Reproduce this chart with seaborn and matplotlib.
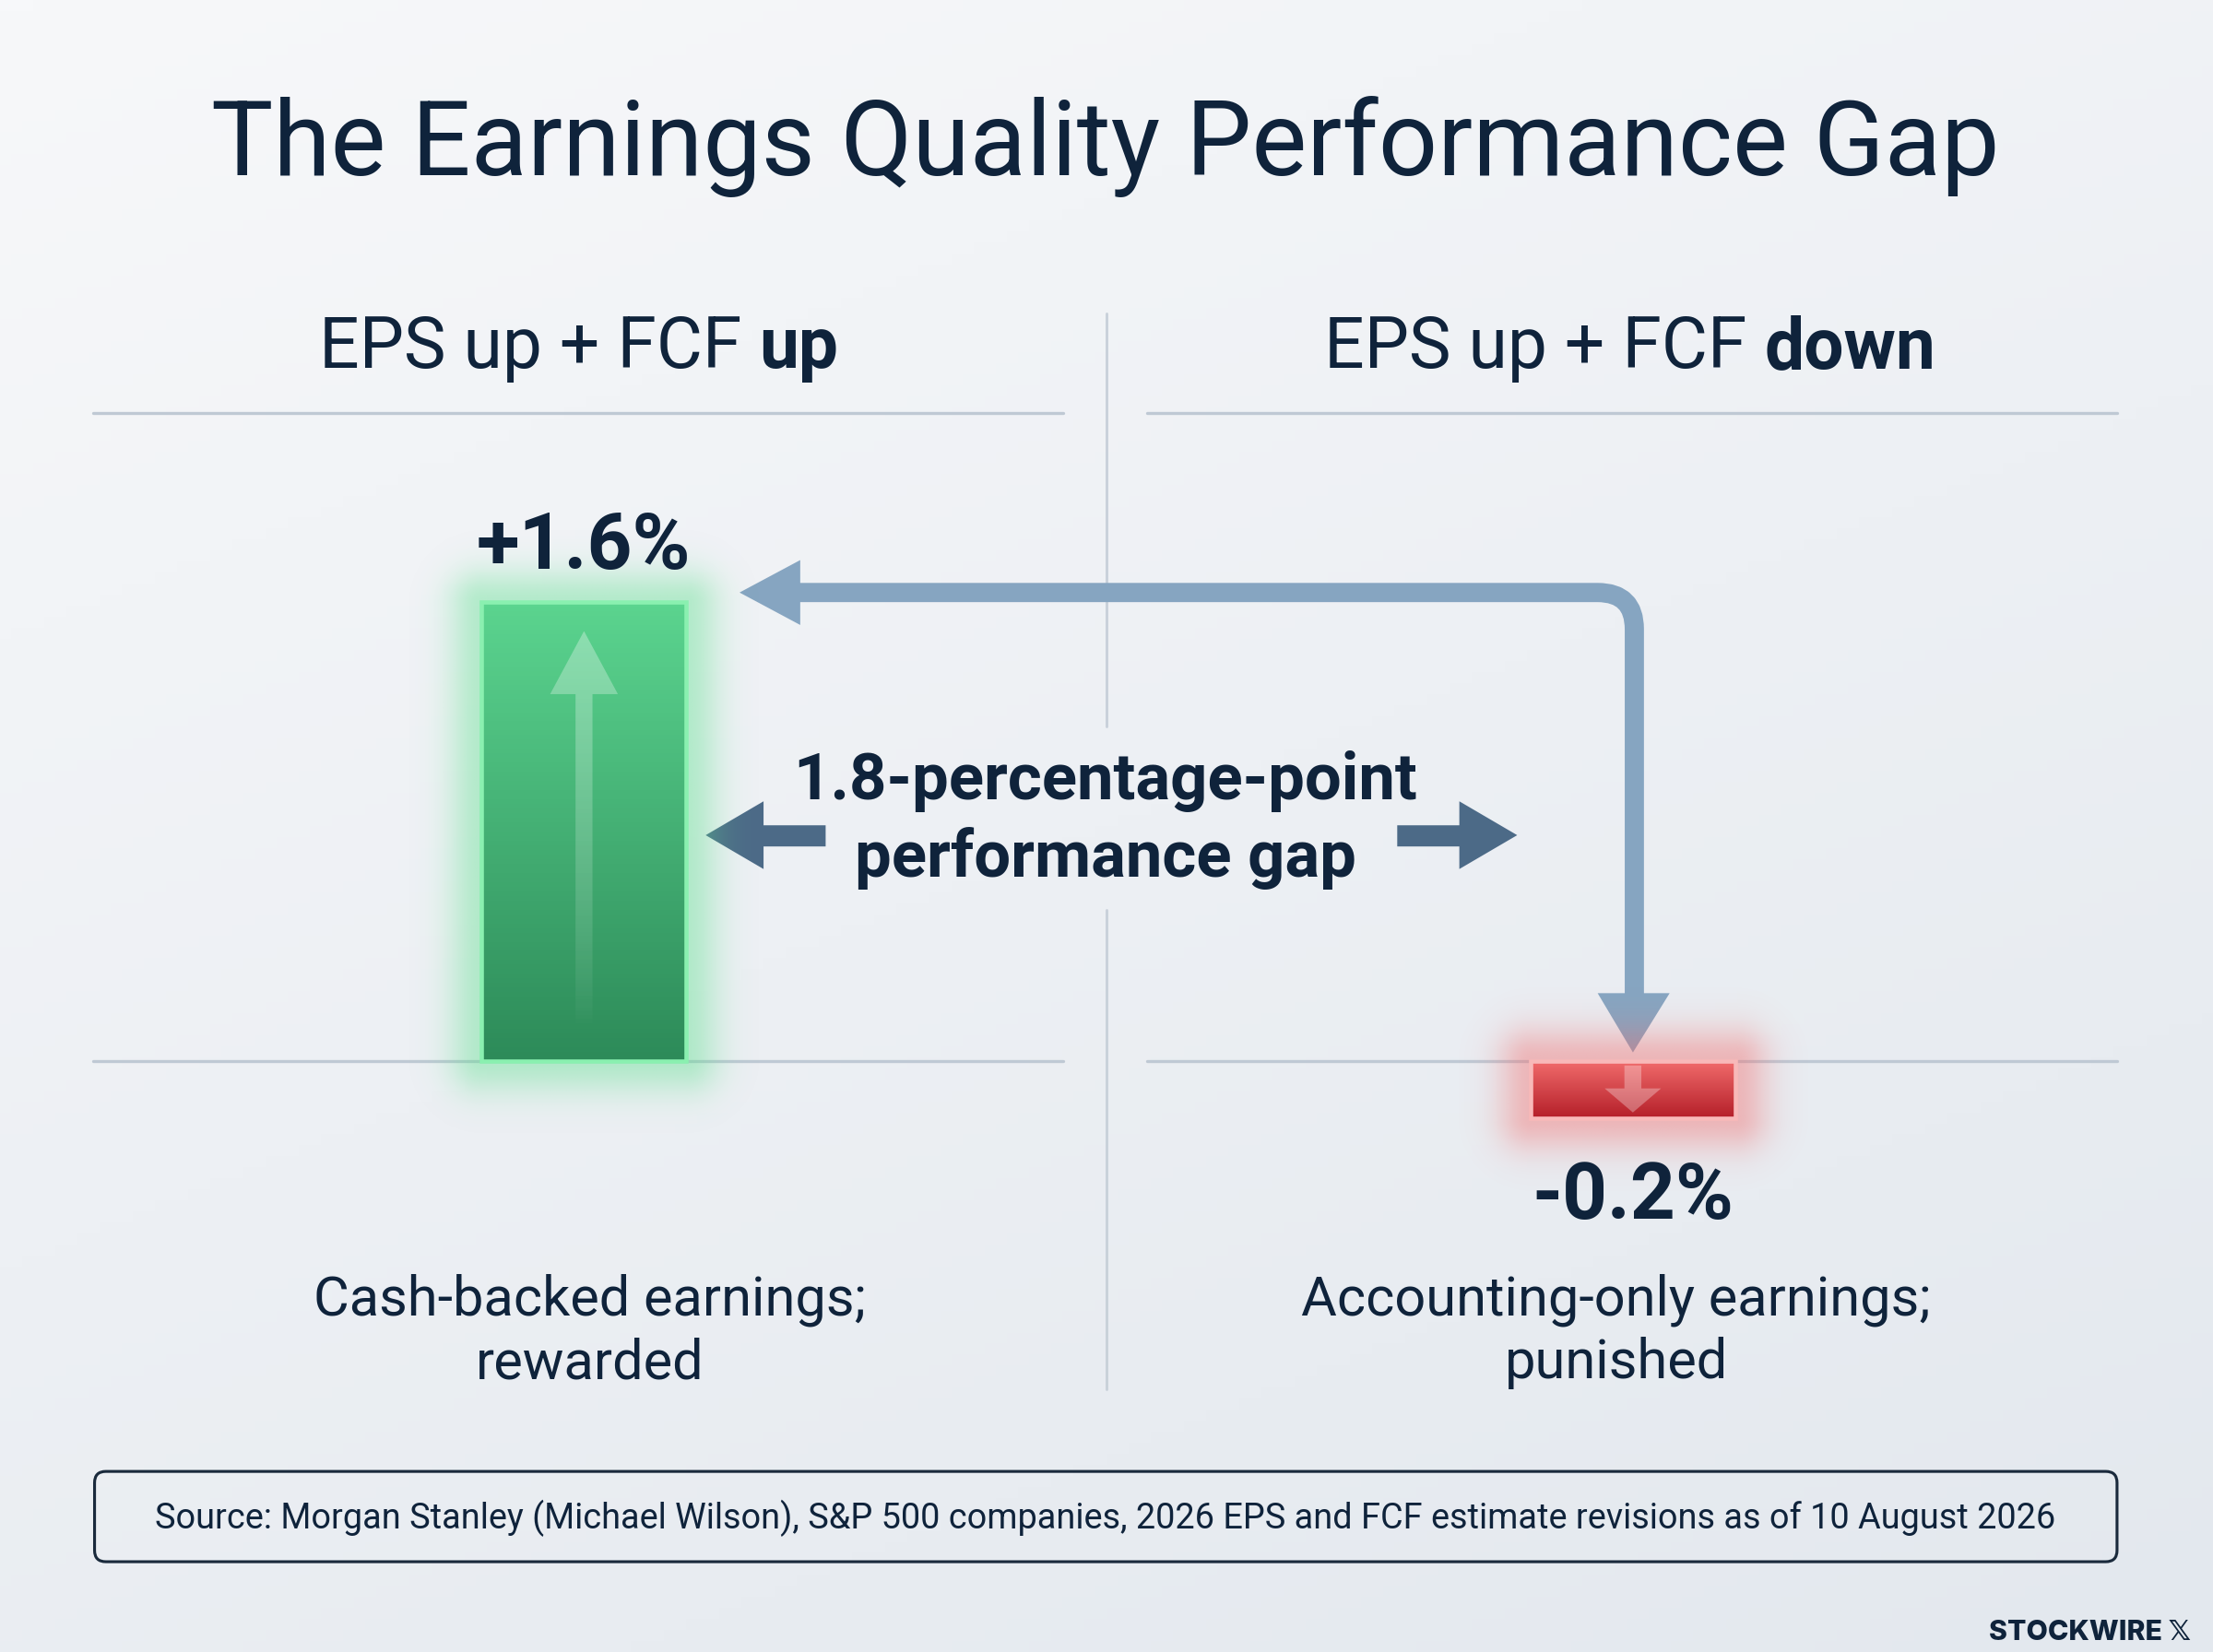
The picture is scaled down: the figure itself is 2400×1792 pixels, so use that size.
import numpy as np
import pandas as pd
import seaborn as sns
import matplotlib.pyplot as plt
from matplotlib.colors import LinearSegmentedColormap, to_rgb
from matplotlib.patches import FancyBboxPatch, Polygon, PathPatch, Rectangle, FancyArrow
from matplotlib.path import Path

# ---- data ----
groups = ["EPS up + FCF up", "EPS up + FCF down"]
returns = [1.6, -0.2]
value_labels = ["+1.6%", "-0.2%"]
header_plain = ["EPS up + FCF ", "EPS up + FCF "]
header_bold = ["up", "down"]
captions = ["Cash-backed earnings;\nrewarded", "Accounting-only earnings;\npunished"]
gap_text = "1.8-percentage-point\nperformance gap"
title = "The Earnings Quality Performance Gap"
source = ("Source: Morgan Stanley (Michael Wilson), S&P 500 companies, "
          "2026 EPS and FCF estimate revisions as of 10 August 2026")

# layout grid (reference drawn at 1568 x 1171)
W, H = 1568, 1171
PX = 2400 / W
NAVY = "#0f233b"
RULE = "#bfc9d4"
STEEL = "#86a5c1"
SLATE = "#4c6a87"

sns.set_theme(style="white")
plt.rcParams["font.family"] = ["Roboto", "DejaVu Sans"]

fig = plt.figure(figsize=(16, 16 * 1792 / 2400), dpi=150)
renderer = fig.canvas.get_renderer()

bg = fig.add_axes([0, 0, 1, 1])
bg.set_xlim(0, W)
bg.set_ylim(H, 0)
bg.axis("off")

# soft background gradient
gx, gy = np.meshgrid(np.linspace(0, 1, 200), np.linspace(0, 1, 150))
bg_cmap = LinearSegmentedColormap.from_list("bg", ["#f7f8fa", "#e3e8ee"])
bg.imshow(0.35 * gx + 0.65 * gy, extent=[0, W, H, 0], cmap=bg_cmap,
          aspect="auto", zorder=0, vmin=0, vmax=1)


def fit(t, width):
    """scale a text so its width matches the reference (layout units)"""
    bb = t.get_window_extent(renderer)
    t.set_fontsize(t.get_fontsize() * width * PX / bb.width)


def text_w(t):
    return t.get_window_extent(renderer).width / PX


# title
t = bg.text(783, 104, title, ha="center", va="center", color=NAVY, fontsize=50)
fit(t, 1267)

# column headers with bold last word
hdr_size = None
for xc, plain, bold, target in zip([410, 1155], header_plain, header_bold, [368, 435]):
    t1 = bg.text(0, 247, plain, ha="left", va="center", color=NAVY, fontsize=30)
    t2 = bg.text(0, 247, bold, ha="left", va="center", color=NAVY,
                 fontsize=30, fontweight="bold")
    if hdr_size is None:
        hdr_size = 30 * target / (text_w(t1) + text_w(t2))
    t1.set_fontsize(hdr_size)
    t2.set_fontsize(hdr_size)
    w1, w2 = text_w(t1), text_w(t2)
    x0 = xc - (w1 + w2) / 2
    t1.set_x(x0)
    t2.set_x(x0 + w1)

# rules and divider
for y in [293, 752]:
    bg.plot([66, 753], [y, y], color=RULE, lw=1.6, zorder=1)
    bg.plot([813, 1500], [y, y], color=RULE, lw=1.6, zorder=1)
bg.plot([784, 784], [222, 515], color="#c9d1da", lw=1.4, zorder=1)
bg.plot([784, 784], [645, 985], color="#c9d1da", lw=1.4, zorder=1)

# ---- bars ----
ax = fig.add_axes([66 / W, 1 - 1000 / H, (1500 - 66) / W, 700 / H])
ax.patch.set_alpha(0)
df = pd.DataFrame({"group": groups, "ret": returns})
sns.barplot(data=df, x="group", y="ret", hue="group",
            palette=["#43b877", "#d63c42"], width=0.195, legend=False,
            ax=ax, zorder=3, linewidth=0)

XLIM = (-0.468, 1.4616)
YLIM = (-1.221, 2.2254)
SX = (1500 - 66) / (XLIM[1] - XLIM[0])   # layout px per x unit
SY = 700 / (YLIM[1] - YLIM[0])           # layout px per y unit

grads = [["#2d8b59", "#5bd48f"], ["#b41f29", "#f26c6c"]]
edges = ["#8af0b0", "#f8b9b9"]
glows = ["#5fe08f", "#f26a6a"]
for bar, grad, edge, glow, val, lab in zip(ax.patches, grads, edges, glows,
                                            returns, value_labels):
    x0, y0 = bar.get_x(), bar.get_y()
    w, h = bar.get_width(), bar.get_height()
    ylo, yhi = min(y0, y0 + h), max(y0, y0 + h)
    # soft glow around the bar
    pad = 70
    gxs = np.linspace(x0 - pad / SX, x0 + w + pad / SX, 240)
    gys = np.linspace(ylo - pad / SY, yhi + pad / SY, 240)
    GX, GY = np.meshgrid(gxs, gys)
    dx = np.maximum.reduce([x0 - GX, np.zeros_like(GX), GX - (x0 + w)]) * SX
    dy = np.maximum.reduce([ylo - GY, np.zeros_like(GY), GY - yhi]) * SY
    d = np.hypot(dx, dy)
    rgba = np.zeros(GX.shape + (4,))
    rgba[..., :3] = to_rgb(glow)
    rgba[..., 3] = 0.42 * np.exp(-(d / 24) ** 2)
    ax.imshow(rgba, extent=[gxs[0], gxs[-1], gys[0], gys[-1]], origin="lower",
              aspect="auto", zorder=2, interpolation="bilinear")
    # vertical gradient fill
    cm = LinearSegmentedColormap.from_list("g", grad)
    img = ax.imshow(np.linspace(0, 1, 100).reshape(-1, 1), extent=[x0, x0 + w, ylo, yhi],
                    origin="lower", cmap=cm, aspect="auto", zorder=3.5)
    img.set_clip_path(bar)
    ax.add_patch(Rectangle((x0, y0), w, h, fill=False, edgecolor=edge,
                           lw=2.2, zorder=4))
    xc = x0 + w / 2
    # inner direction arrow, fading towards the base
    if val > 0:
        arr = FancyArrow(xc, 0.12, 0, 1.38 - 0.22, width=12 / SX,
                         head_width=48 / SX, head_length=0.22,
                         length_includes_head=False, fc="none", lw=0, zorder=5)
        ax.add_patch(arr)
        fade = np.zeros((100, 1, 4))
        fade[..., :3] = 1.0
        fade[:, 0, 3] = np.linspace(0.0, 0.32, 100) ** 0.7 * 0.32 / 0.32 ** 0.7
        im = ax.imshow(fade, extent=[xc - 30 / SX, xc + 30 / SX, 0.12, 1.5],
                       origin="lower", aspect="auto", zorder=5)
        im.set_clip_path(arr)
        ax.annotate(lab, (xc, val), xytext=(0, 29), textcoords="offset points",
                    ha="center", va="center", fontsize=30, fontweight="bold",
                    color=NAVY)
    else:
        ax.add_patch(FancyArrow(xc, val * 0.08, 0, val * 0.4, width=12 / SX,
                                head_width=40 / SX, head_length=-val * 0.42,
                                length_includes_head=False, color="white",
                                alpha=0.3, lw=0, zorder=5))
        ax.annotate(lab, (xc, val), xytext=(0, -41), textcoords="offset points",
                    ha="center", va="center", fontsize=30, fontweight="bold",
                    color=NAVY)

ax.set_xlim(*XLIM)
ax.set_ylim(*YLIM)
ax.axis("off")

# value labels sized to reference
for t in ax.texts:
    fit(t, 152 if t.get_text().startswith("+") else 143)

# ---- connector arrow from right column to left bar ----
conn = Path([(1158, 706), (1158, 446), (1158, 420), (1132, 420), (566, 420)],
            [Path.MOVETO, Path.LINETO, Path.CURVE3, Path.CURVE3, Path.LINETO])
bg.add_patch(PathPatch(conn, fill=False, edgecolor=STEEL, lw=10, capstyle="butt",
                       joinstyle="round", zorder=6))
bg.add_patch(Polygon([(1132, 704), (1183, 704), (1157, 746)], closed=True,
                     color=STEEL, lw=0, zorder=6))
bg.add_patch(Polygon([(567, 397), (567, 443), (524, 420)], closed=True,
                     color=STEEL, lw=0, zorder=6))

# ---- gap callout ----
t = bg.text(783, 581, gap_text, ha="center", va="center", color=NAVY,
            fontsize=28, fontweight="bold", linespacing=1.3)
fit(t, 442)
bg.add_patch(Polygon([(500, 592), (541, 568), (541, 585), (585, 585), (585, 600),
                      (541, 600), (541, 616)], closed=True, color=SLATE, lw=0, zorder=6))
bg.add_patch(Polygon([(1075, 592), (1034, 568), (1034, 585), (990, 585), (990, 600),
                      (1034, 600), (1034, 616)], closed=True, color=SLATE, lw=0, zorder=6))

# ---- captions ----
cap_size = None
for xc, cap in zip([418, 1145], captions):
    t = bg.text(xc, 944, cap, ha="center", va="center", color=NAVY,
                fontsize=26, linespacing=1.25)
    if cap_size is None:
        fit(t, 391)
        cap_size = t.get_fontsize()
    t.set_fontsize(cap_size)

# ---- source box ----
bg.add_patch(FancyBboxPatch((67, 1043), 1433, 64,
                            boxstyle="round,pad=0,rounding_size=8",
                            fill=False, edgecolor="#1a2a3c", lw=1.5, zorder=6))
t = bg.text(783, 1076, source, ha="center", va="center", color=NAVY, fontsize=16)
fit(t, 1348)

# brand
bg.text(1552, 1157, "STOCKWIRE \U0001D54F", ha="right", va="center", color=NAVY,
        fontsize=14.5, fontweight="heavy", family=["Inter", "DejaVu Sans"])

fig.savefig("out.png", dpi=150)
